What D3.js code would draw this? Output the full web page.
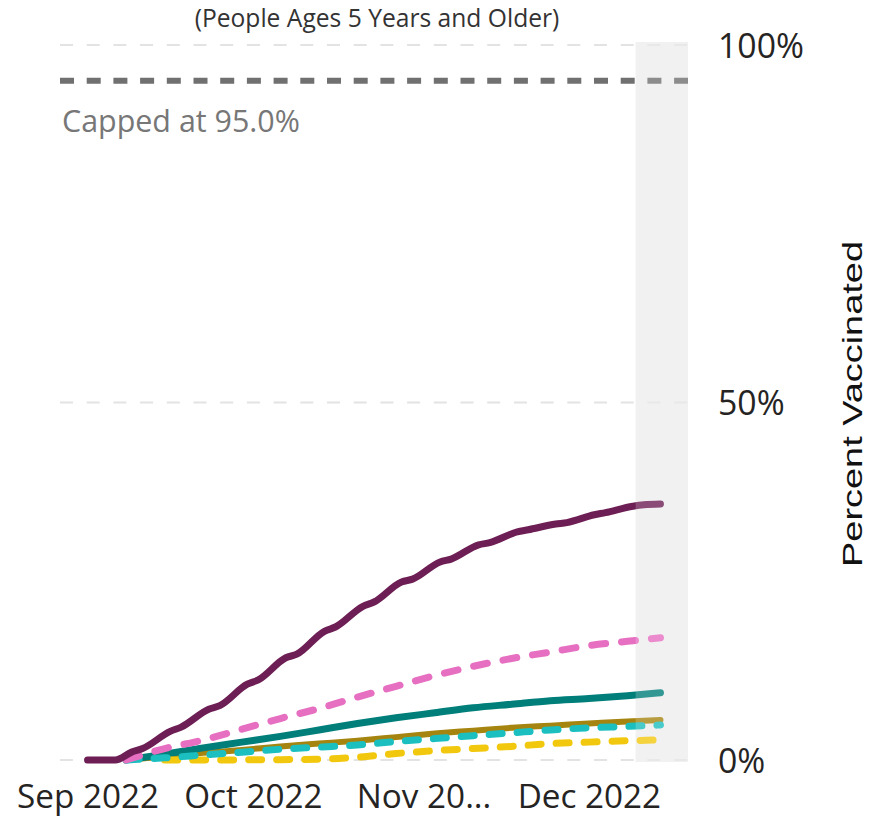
<!DOCTYPE html>
<html>
<head>
<meta charset="utf-8">
<script src="https://cdn.jsdelivr.net/npm/d3@7/dist/d3.min.js"></script>
<style>
  html, body { margin: 0; padding: 0; background: #ffffff; }
  svg { display: block; }
</style>
</head>
<body>
<script>
// ---------------- DATA ----------------
const titleText = "(People Ages 5 Years and Older)";
const capText = "Capped at 95.0%";
const capValue = 95;
const axisTitle = "Percent Vaccinated";

const xTickDates = ["2022-09-01", "2022-10-01", "2022-11-01", "2022-12-01"];
const xTickLabels = ["Sep 2022", "Oct 2022", "Nov 20...", "Dec 2022"];
const yTickValues = [0, 50, 100];
const yTickLabels = ["0%", "50%", "100%"];

const domainStart = "2022-08-27";
const domainEnd = "2022-12-19";
const bandStart = "2022-12-09T12:00";
const bandEnd = "2022-12-19";

// dates for the purple series (weekly steps with weekend flats)
const purpleDates = ["2022-09-01","2022-09-06","2022-09-09","2022-09-11","2022-09-16","2022-09-18",
  "2022-09-23","2022-09-25","2022-09-30","2022-10-02","2022-10-07","2022-10-09","2022-10-14","2022-10-16",
  "2022-10-21","2022-10-23","2022-10-28","2022-10-30","2022-11-04","2022-11-06","2022-11-11","2022-11-13",
  "2022-11-18","2022-11-20","2022-11-25","2022-11-27","2022-12-02","2022-12-04","2022-12-09","2022-12-11",
  "2022-12-14"];
const purpleValues = [0, 0, 1.1, 1.6, 4.0, 4.6, 7.1, 7.6, 10.6, 11.2, 14.3, 14.8, 18.0, 18.6,
  21.5, 22.1, 24.9, 25.3, 27.7, 28.1, 30.1, 30.4, 31.9, 32.2, 33.0, 33.2, 34.3, 34.6, 35.5, 35.7, 35.8];

// weekly dates for the other series
const weeklyDates = ["2022-09-01","2022-09-08","2022-09-15","2022-09-22","2022-09-29","2022-10-06",
  "2022-10-13","2022-10-20","2022-10-27","2022-11-03","2022-11-10","2022-11-17","2022-11-24","2022-12-01",
  "2022-12-08","2022-12-14"];
const pinkValues   = [null, 0, 1.6, 2.8, 4.3, 5.8, 7.2, 8.8, 10.3, 11.8, 13.1, 14.2, 15.1, 16.0, 16.6, 17.1];
const tealValues   = [null, 0, 0.8, 1.7, 2.5, 3.3, 4.2, 5.1, 5.9, 6.6, 7.3, 7.8, 8.3, 8.6, 9.0, 9.4];
const oliveValues  = [null, 0, 0.5, 1.0, 1.4, 1.9, 2.3, 2.7, 3.2, 3.7, 4.1, 4.5, 4.8, 5.1, 5.4, 5.6];
const cyanValues   = [null, 0, 0.3, 0.7, 1.1, 1.5, 1.8, 2.1, 2.6, 3.0, 3.4, 3.8, 4.2, 4.5, 4.7, 4.9];
const yellowValues = [null, null, 0, 0, 0.02, 0.05, 0.1, 0.4, 0.9, 1.3, 1.6, 1.9, 2.3, 2.5, 2.7, 2.8];

// ---------------- CHART ----------------
const W = 889, H = 818;
const parse = s => new Date(s + (s.length === 10 ? "T00:00:00Z" : ":00Z"));

const svg = d3.select("body").append("svg").attr("width", W).attr("height", H);

const x = d3.scaleUtc().domain([parse(domainStart), parse(domainEnd)]).range([60, 688]);
const y = d3.scaleLinear().domain([0, 100]).range([760, 45]);

function fitWidth(sel, target) {
  const n = sel.node();
  const w = n.getComputedTextLength();
  const fs = parseFloat(sel.attr("font-size"));
  const nf = fs * target / w;
  sel.attr("font-size", nf);
  return nf;
}

// shaded band (beneath)
svg.append("rect")
  .attr("x", x(parse(bandStart))).attr("y", 42)
  .attr("width", x(parse(bandEnd)) - x(parse(bandStart)))
  .attr("height", 762 - 42)
  .attr("fill", "#eeeeee");

// gridlines
svg.append("g").selectAll("line").data(yTickValues).join("line")
  .attr("x1", x.range()[0]).attr("x2", x.range()[1])
  .attr("y1", d => y(d)).attr("y2", d => y(d))
  .attr("stroke", "#e3e3e3").attr("stroke-width", 2)
  .attr("stroke-dasharray", "13,13.7");

// cap line
svg.append("line")
  .attr("x1", x.range()[0]).attr("x2", x.range()[1])
  .attr("y1", y(capValue)).attr("y2", y(capValue))
  .attr("stroke", "#707070").attr("stroke-width", 6)
  .attr("stroke-dasharray", "14,12.7");

svg.append("text")
  .attr("x", 62).attr("y", 132)
  .attr("font-family", "Open Sans").attr("font-size", 26)
  .attr("fill", "#777777")
  .text(capText)
  .call(s => fitWidth(s, 238));

// series
const series = [
  { dates: weeklyDates, values: oliveValues,  color: "#a5850f", dash: null,    width: 6 },
  { dates: weeklyDates, values: tealValues,   color: "#007f7a", dash: null,    width: 7 },
  { dates: weeklyDates, values: yellowValues, color: "#f2c80f", dash: "13,15", width: 7 },
  { dates: weeklyDates, values: cyanValues,   color: "#1cbfbf", dash: "13,15", width: 7 },
  { dates: weeklyDates, values: pinkValues,   color: "#e66fc1", dash: "14,16", width: 7 },
  { dates: purpleDates, values: purpleValues, color: "#6d1f55", dash: null,    width: 7 }
];

const line = d3.line()
  .defined(d => d.value != null)
  .x(d => x(d.date)).y(d => y(d.value))
  .curve(d3.curveMonotoneX);

svg.append("g").selectAll("path").data(series).join("path")
  .attr("d", s => line(s.dates.map((dt, i) => ({ date: parse(dt), value: s.values[i] })).filter(d => d.value != null)))
  .attr("fill", "none")
  .attr("stroke", s => s.color)
  .attr("stroke-width", s => s.width)
  .attr("stroke-linecap", "round")
  .attr("stroke-linejoin", "round")
  .attr("stroke-dasharray", s => s.dash);

// band overlay (lightens marks inside)
svg.append("rect")
  .attr("x", x(parse(bandStart))).attr("y", 42)
  .attr("width", x(parse(bandEnd)) - x(parse(bandStart)))
  .attr("height", 762 - 42)
  .attr("fill", "#ffffff").attr("fill-opacity", 0.2);

// title
svg.append("text")
  .attr("x", 377).attr("y", 27)
  .attr("text-anchor", "middle")
  .attr("font-family", "Open Sans").attr("font-size", 18)
  .attr("fill", "#333333")
  .text(titleText)
  .call(s => fitWidth(s, 365));

// x axis
const xAxis = d3.axisBottom(x)
  .tickValues(xTickDates.map(parse))
  .tickFormat((d, i) => xTickLabels[i])
  .tickSize(0).tickPadding(0);
const gx = svg.append("g").attr("transform", "translate(0,808)").call(xAxis);
gx.select(".domain").remove();
gx.selectAll("text")
  .attr("font-family", "Open Sans").attr("font-size", 32)
  .attr("fill", "#252423").attr("dy", 0).attr("y", 0);
{
  const first = gx.select(".tick text");
  const fs = fitWidth(first, 142);
  gx.selectAll("text").attr("font-size", fs);
}

// y axis (right)
const yAxis = d3.axisRight(y)
  .tickValues(yTickValues)
  .tickFormat((d, i) => yTickLabels[i])
  .tickSize(0).tickPadding(0);
const gy = svg.append("g").attr("transform", "translate(718,0)").call(yAxis);
gy.select(".domain").remove();
gy.selectAll("text")
  .attr("font-family", "Open Sans").attr("font-size", 33)
  .attr("fill", "#252423").attr("x", 0).attr("dy", "0.36em");
{
  const top = gy.selectAll(".tick text").filter(d => d === 100);
  const fs = fitWidth(top, 86);
  gy.selectAll("text").attr("font-size", fs);
}

// axis title
svg.append("text")
  .attr("transform", "translate(862,404) rotate(-90)")
  .attr("text-anchor", "middle")
  .attr("font-family", "Liberation Sans, Arial, sans-serif")
  .attr("font-size", 28)
  .attr("fill", "#111111")
  .attr("textLength", 326)
  .attr("lengthAdjust", "spacingAndGlyphs")
  .text(axisTitle);
</script>
</body>
</html>
